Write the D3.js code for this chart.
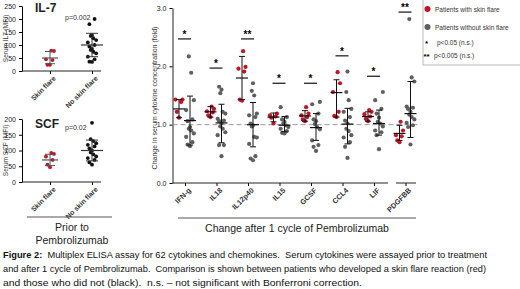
<!DOCTYPE html>
<html lang="en">
<head>
  <script src="https://cdn.jsdelivr.net/npm/d3@7"></script>
  <style>
    body { margin: 0; background: #fff; }
    text { font-family: "Liberation Sans", Arial, sans-serif; }
  </style>
</head>
<body>
  <script>
    // ---- data ----
    const cytokines = ["IFN-g", "IL18", "IL12p40", "IL15", "GCSF", "CCL4", "LIF", "PDGFBB"];
    const flareVals = [
      [1.43, 1.43, 1.39, 1.22, 1.12],
      [1.31, 1.27, 1.23, 1.21, 1.16, 1.13],
      [2.26, 1.99, 1.96, 1.91, 1.43, 1.41],
      [1.19, 1.16, 1.14, 1.12, 1.02],
      [1.30, 1.19, 1.16, 1.13, 1.09, 1.06],
      [1.90, 1.71, 1.56, 1.22, 1.15, 1.13],
      [1.25, 1.22, 1.18, 1.14, 1.10, 1.06],
      [1.05, 0.90, 0.82, 0.80, 0.73, 0.70]
    ];
    const noFlareVals = [
      [2.17, 1.89, 1.42, 1.25, 1.09, 1.06, 0.96, 0.93, 0.90, 0.85, 0.79, 0.70, 0.66, 0.63],
      [1.65, 1.60, 1.54, 1.22, 1.19, 1.10, 1.07, 1.06, 1.02, 0.97, 0.93, 0.87, 0.82, 0.65, 0.65, 0.46],
      [1.71, 1.58, 1.50, 1.19, 1.16, 1.13, 1.02, 0.99, 0.97, 0.79, 0.78, 0.67, 0.46, 0.42, 0.39],
      [1.30, 1.13, 1.09, 1.05, 1.02, 0.99, 0.96, 0.93, 0.89, 0.86, 0.85],
      [1.39, 1.35, 1.19, 1.09, 1.06, 1.01, 0.96, 0.92, 0.73, 0.65, 0.62, 0.55],
      [1.91, 1.56, 1.42, 1.27, 1.22, 1.13, 1.07, 1.02, 0.93, 0.89, 0.82, 0.78, 0.70, 0.62, 0.43],
      [1.56, 1.42, 1.27, 1.19, 1.12, 1.05, 1.02, 0.97, 0.90, 0.87, 0.82, 0.58],
      [2.81, 1.81, 1.74, 1.31, 1.29, 1.27, 1.22, 1.17, 1.13, 1.09, 1.03, 0.99, 0.96, 0.66]
    ];
    // mean, lower, upper (as drawn)
    const flareStats = [[1.27, 1.12, 1.43], [1.22, 1.13, 1.31], [1.80, 1.43, 2.17], [1.13, 1.05, 1.20],
                        [1.15, 1.06, 1.24], [1.55, 1.13, 1.77], [1.14, 1.06, 1.22], [0.85, 0.73, 0.99]];
    const noFlareStats = [[1.07, 0.65, 1.49], [1.03, 0.69, 1.35], [1.00, 0.62, 1.38], [0.99, 0.88, 1.14],
                          [0.95, 0.73, 1.19], [1.01, 0.67, 1.28], [1.02, 0.82, 1.25], [1.19, 0.78, 1.74]];
    const sigLabels = ["*", "*", "**", "*", "*", "*", "*", "**"];
    const sigLevels = [2.47, 1.97, 2.47, 1.71, 1.71, 2.18, 1.83, 2.93];
    const mainTicks = [0, 1, 2, 3];

    const groups = ["Skin flare", "No skin flare"];
    const il7Flare = [78, 77, 45, 42, 24, 24];
    const il7NoFlare = [200, 180, 138, 135, 126, 119, 110, 100, 94, 85, 81, 74, 68, 55, 45, 36, 35];
    const il7Stats = [[50, 28, 75], [100, 55, 145]];
    const il7Ticks = [0, 50, 100, 150, 200, 250];
    const scfFlare = [92, 89, 81, 70, 55, 47];
    const scfNoFlare = [188, 136, 130, 123, 118, 113, 107, 100, 94, 88, 81, 76, 70, 62, 55];
    const scfStats = [[70, 52, 88], [100, 67, 133]];
    const scfTicks = [0, 50, 100, 150, 200];

    const red = "#c01427", grey = "#5f5f5f";

    const svg = d3.select("body").append("svg").attr("width", 520).attr("height", 289);

    // simple beeswarm-ish horizontal spread
    function spread(vals, cx, step) {
      const sorted = vals.map((v, i) => ({ v, i })).sort((a, b) => a.v - b.v);
      const offs = [0, -1, 1, -1.6, 1.6, 0.5, -0.5];
      return sorted.map((d, k) => ({ v: d.v, x: cx + offs[k % offs.length] * step }));
    }

    function errBar(g, cx, st, y, halfMean, halfCap, color) {
      g.append("line").attr("x1", cx).attr("x2", cx).attr("y1", y(st[1])).attr("y2", y(st[2]))
        .attr("stroke", color).attr("stroke-width", 1);
      g.append("line").attr("x1", cx - halfMean).attr("x2", cx + halfMean).attr("y1", y(st[0])).attr("y2", y(st[0]))
        .attr("stroke", color).attr("stroke-width", 1.2);
      [st[1], st[2]].forEach(v => g.append("line").attr("x1", cx - halfCap).attr("x2", cx + halfCap)
        .attr("y1", y(v)).attr("y2", y(v)).attr("stroke", color).attr("stroke-width", 1));
    }

    // ---- main panel ----
    const yMain = d3.scaleLinear().domain([0, 3]).range([183, 8]);
    const xMain = d3.scalePoint().domain(cytokines).range([185, 405.5]);
    const axisX = 172.5;

    svg.append("g").attr("transform", `translate(${axisX},0)`)
      .call(d3.axisLeft(yMain).tickValues(mainTicks).tickSize(3).tickSizeOuter(0))
      .call(g => g.selectAll("text").attr("font-size", 7).attr("fill", "#222"))
      .call(g => g.select(".domain").attr("stroke", "#222"));

    const xg = svg.append("g").attr("transform", "translate(0,183)")
      .call(d3.axisBottom(xMain).tickSize(3).tickSizeOuter(0));
    xg.select(".domain").remove();
    xg.selectAll("text").attr("font-size", 7.3).attr("font-weight", "bold").attr("fill", "#333")
      .attr("text-anchor", "end").attr("dx", "-0.2em").attr("dy", "0.5em")
      .attr("transform", "rotate(-45)");
    xg.append("line").attr("x1", axisX).attr("x2", 388).attr("stroke", "#222");
    xg.append("line").attr("x1", 396).attr("x2", 416).attr("stroke", "#222");

    // dashed reference at 1
    svg.append("line").attr("x1", axisX).attr("x2", 421).attr("y1", yMain(1)).attr("y2", yMain(1))
      .attr("stroke", "#999").attr("stroke-dasharray", "5,3").attr("stroke-width", 1);

    cytokines.forEach((c, i) => {
      const cx = xMain(c);
      const g = svg.append("g");
      g.selectAll(".r").data(spread(flareVals[i], cx - 6, 2.2)).join("circle")
        .attr("cx", d => d.x).attr("cy", d => yMain(d.v)).attr("r", 2.1).attr("fill", red);
      g.selectAll(".k").data(spread(noFlareVals[i], cx + 5, 2.4)).join("circle")
        .attr("cx", d => d.x).attr("cy", d => yMain(d.v)).attr("r", 2.1).attr("fill", grey);
      errBar(g, cx - 6, flareStats[i], yMain, 6, 3, "#111");
      errBar(g, cx + 5, noFlareStats[i], yMain, 6, 3, "#111");
      g.append("line").attr("x1", cx - 7).attr("x2", cx + 6).attr("y1", yMain(sigLevels[i])).attr("y2", yMain(sigLevels[i]))
        .attr("stroke", "#111").attr("stroke-width", 1.2);
      g.append("text").attr("x", cx - 0.5).attr("y", yMain(sigLevels[i]) - 1).attr("text-anchor", "middle")
        .attr("font-size", 10).attr("font-weight", "bold").text(sigLabels[i]);
    });

    svg.append("text").attr("transform", "translate(157,98) rotate(-90)").attr("text-anchor", "middle")
      .attr("font-size", 7).attr("fill", "#333").text("Change in serum cytokine concentration (fold)");

    svg.append("line").attr("x1", 178).attr("x2", 416).attr("y1", 218).attr("y2", 218).attr("stroke", "#555");
    svg.append("text").attr("x", 297).attr("y", 232).attr("text-anchor", "middle").attr("font-size", 10.5)
      .attr("fill", "#222").text("Change after 1 cycle of Pembrolizumab");

    // legend
    const lg = svg.append("g");
    lg.append("rect").attr("x", 423).attr("y", -1).attr("width", 100).attr("height", 66)
      .attr("fill", "#fff").attr("stroke", "#bbb");
    const legendItems = [
      { sym: "dot", color: red, label: "Patients with skin flare", y: 9 },
      { sym: "dot", color: grey, label: "Patients without skin flare", y: 27 },
      { sym: "*", label: "p<0.05 (n.s.)", y: 42 },
      { sym: "**", label: "p<0.005 (n.s.)", y: 55 }
    ];
    legendItems.forEach(d => {
      if (d.sym === "dot") {
        lg.append("circle").attr("cx", 427.5).attr("cy", d.y).attr("r", 3).attr("fill", d.color);
        lg.append("text").attr("x", 435).attr("y", d.y + 2.5).attr("font-size", 6.5).attr("fill", "#333").text(d.label);
      } else {
        lg.append("text").attr("x", d.sym === "*" ? 425 : 423.5).attr("y", d.y + 4).attr("font-size", 8)
          .attr("font-weight", "bold").text(d.sym);
        lg.append("text").attr("x", d.sym === "*" ? 437 : 434).attr("y", d.y + 2.5).attr("font-size", 6.5)
          .attr("fill", "#333").text(d.label);
      }
    });

    // ---- left panels ----
    function smallPanel(yRange, ticks, flare, noFlare, stats, title, titleY, pText, pY, yLabel) {
      const y = d3.scaleLinear().domain([0, ticks[ticks.length - 1]]).range(yRange);
      const x = d3.scalePoint().domain(groups).range([50, 92]);
      svg.append("g").attr("transform", "translate(22,0)")
        .call(d3.axisLeft(y).tickValues(ticks).tickSize(3).tickSizeOuter(0))
        .call(g => g.selectAll("text").attr("font-size", 7).attr("fill", "#222"));
      const bx = svg.append("g").attr("transform", `translate(0,${yRange[0]})`)
        .call(d3.axisBottom(x).tickSize(3).tickSizeOuter(0));
      bx.select(".domain").remove();
      bx.append("line").attr("x1", 22).attr("x2", 101).attr("stroke", "#222");
      bx.selectAll("text").attr("font-size", 7).attr("font-weight", "bold").attr("fill", "#333")
        .attr("text-anchor", "end").attr("dx", "-0.2em").attr("dy", "0.5em").attr("transform", "rotate(-45)");
      svg.append("g").selectAll("circle").data(spread(flare, x(groups[0]), 2.5)).join("circle")
        .attr("cx", d => d.x).attr("cy", d => y(d.v)).attr("r", 1.9).attr("fill", red);
      svg.append("g").selectAll("circle").data(spread(noFlare, x(groups[1]), 2.6)).join("circle")
        .attr("cx", d => d.x).attr("cy", d => y(d.v)).attr("r", 1.9).attr("fill", "#111");
      errBar(svg.append("g"), x(groups[0]), stats[0], y, 8, 5, "#4a5a55");
      errBar(svg.append("g"), x(groups[1]), stats[1], y, 11, 6, "#333");
      svg.append("text").attr("x", 35).attr("y", titleY).attr("font-size", 12).attr("font-weight", "bold")
        .attr("fill", "#222").text(title);
      svg.append("text").attr("x", 65).attr("y", pY).attr("font-size", 7).attr("fill", "#333").text(pText);
      svg.append("text").attr("transform", `translate(8,${(yRange[0] + yRange[1]) / 2}) rotate(-90)`)
        .attr("text-anchor", "middle").attr("font-size", 6.5).attr("fill", "#333").text(yLabel);
    }
    smallPanel([71, 6], il7Ticks, il7Flare, il7NoFlare, il7Stats, "IL-7", 12, "p=0.002", 20, "Serum IL7 (MFI)");
    smallPanel([182, 119], scfTicks, scfFlare, scfNoFlare, scfStats, "SCF", 128, "p=0.02", 130, "Serum SCF (MFI)");

    svg.append("line").attr("x1", 27).attr("x2", 112).attr("y1", 217).attr("y2", 217).attr("stroke", "#555");
    svg.append("text").attr("x", 72).attr("y", 231).attr("text-anchor", "middle").attr("font-size", 10.5)
      .attr("fill", "#222").text("Prior to");
    svg.append("text").attr("x", 72).attr("y", 244).attr("text-anchor", "middle").attr("font-size", 10.5)
      .attr("fill", "#222").text("Pembrolizumab");

    // ---- caption ----
    const caption = [
      [["Figure 2:", true], ["  Multiplex ELISA assay for 62 cytokines and chemokines.  Serum cytokines were assayed prior to treatment", false]],
      [["and after 1 cycle of Pembrolizumab.  Comparison is shown between patients who developed a skin flare reaction (red)", false]],
      [["and those who did not (black).  n.s. \u2013 not significant with Bonferroni correction.", false]]
    ];
    const captionWidths = [484, 483, 359];
    caption.forEach((line, i) => {
      const t = svg.append("text").attr("x", 3).attr("y", 258 + i * 14).attr("font-size", 9.6)
        .attr("fill", "#111").attr("xml:space", "preserve")
        .attr("textLength", captionWidths[i]).attr("lengthAdjust", "spacingAndGlyphs");
      line.forEach(([s, b]) => t.append("tspan").attr("font-weight", b ? "bold" : "normal").text(s));
    });
  </script>
</body>
</html>
